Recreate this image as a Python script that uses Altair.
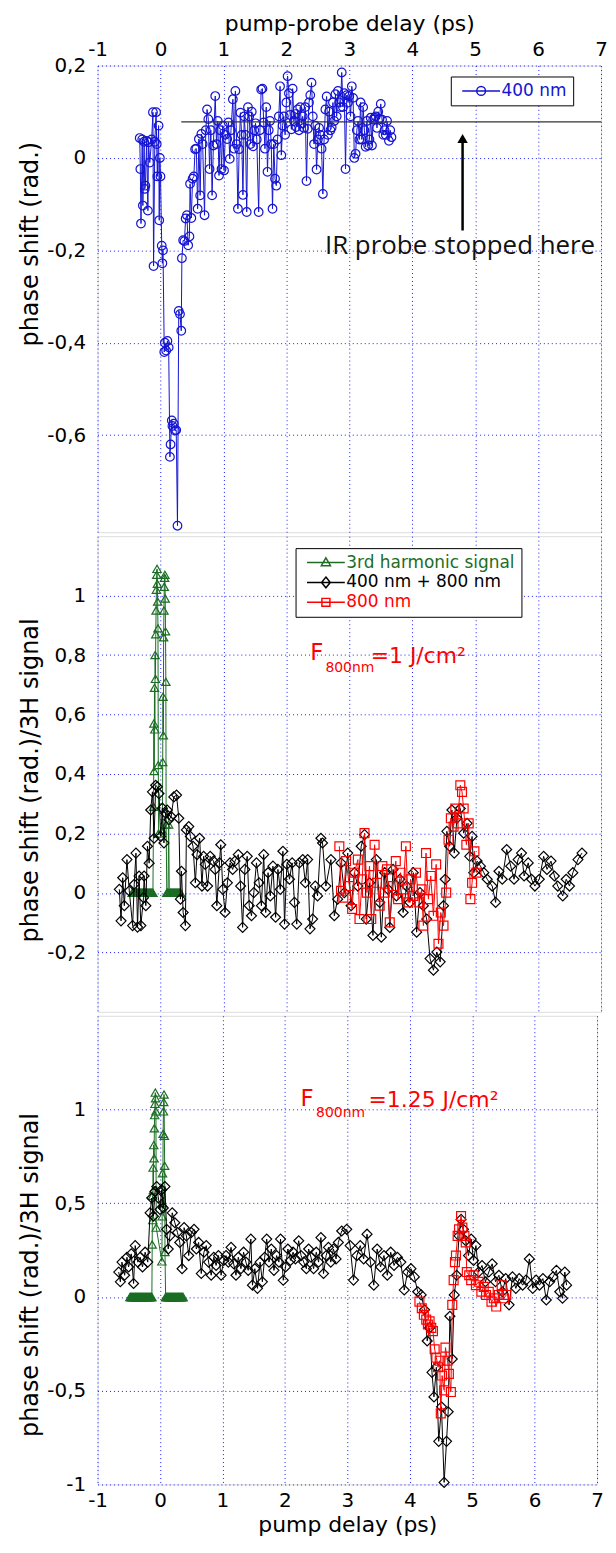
import altair as alt
import pandas as pd

BLUE = "#0000ff"
SERIES_BLUE = "#1414d2"
GREEN = "#1b6e23"
RED = "#ff0000"
BLACK = "#000000"
FONT = "DejaVu Sans"

X_TICKS = [-1, 0, 1, 2, 3, 4, 5, 6, 7]

# ---------------- top panel: 400 nm ----------------
TOP_X = [-0.33,-0.32,-0.31,-0.29,-0.28,-0.26,-0.25,-0.24,-0.22,-0.20,
         -0.19,-0.17,-0.14,-0.12,-0.11,-0.09,-0.07,-0.06,-0.05,-0.03,
         -0.02,-0.01,0.00,0.02,0.03,0.04,0.06,0.07,0.09,0.11,
         0.13,0.15,0.16,0.18,0.19,0.21,0.23,0.25,0.27,0.29,
         0.31,0.33,0.34,0.36,0.38,0.40,0.42,0.44,0.46,0.47,
         0.49,0.51,0.53,0.55,0.57,0.59,0.61,0.63,0.65,0.67,
         0.70,0.72,0.74,0.76,0.78,0.80,0.82,0.84,0.87,0.89,
         0.91,0.93,0.95,0.97,0.99,1.01,1.03,1.06,1.08,1.10,
         1.12,1.15,1.17,1.19,1.21,1.23,1.25,1.27,1.29,1.31,
         1.33,1.35,1.37,1.39,1.41,1.43,1.45,1.47,1.49,1.51,
         1.53,1.56,1.58,1.60,1.62,1.64,1.66,1.68,1.70,1.72,
         1.74,1.76,1.78,1.80,1.82,1.84,1.86,1.88,1.90,1.92,
         1.94,1.96,1.98,2.00,2.02,2.04,2.06,2.08,2.10,2.12,
         2.14,2.16,2.18,2.20,2.22,2.24,2.26,2.28,2.30,2.32,
         2.34,2.36,2.38,2.40,2.42,2.44,2.46,2.48,2.50,2.52,
         2.54,2.56,2.58,2.60,2.62,2.64,2.66,2.68,2.70,2.72,
         2.74,2.76,2.78,2.80,2.82,2.84,2.86,2.88,2.90,2.92,
         2.94,2.96,2.98,3.00,3.02,3.04,3.06,3.08,3.10,3.12,
         3.14,3.16,3.18,3.20,3.22,3.24,3.26,3.28,3.30,3.32,
         3.34,3.36,3.38,3.40,3.42,3.44,3.46,3.48,3.50,3.52,
         3.54,3.56,3.58,3.60,3.63,3.65,3.67]
TOP_Y = [0.043,-0.024,-0.142,0.040,-0.103,0.035,-0.067,-0.060,0.037,-0.114,
         0.034,-0.010,0.040,0.099,-0.234,0.035,0.099,0.030,-0.040,0.070,
         -0.135,0.000,-0.040,-0.190,-0.228,-0.200,-0.420,-0.400,-0.417,-0.396,
         -0.410,-0.647,-0.620,-0.568,-0.580,-0.575,-0.590,-0.589,-0.796,-0.331,
         -0.338,-0.374,-0.217,-0.178,-0.180,-0.131,-0.124,-0.189,-0.170,-0.056,
         -0.130,-0.045,-0.040,0.019,0.020,-0.110,0.041,-0.081,0.052,0.030,
         -0.124,0.060,0.105,0.084,-0.024,0.060,-0.081,0.027,0.134,0.030,
         0.080,-0.038,0.060,-0.024,0.070,-0.027,0.050,0.041,0.077,-0.002,
         0.060,0.127,0.020,0.145,0.030,-0.110,0.019,0.098,0.050,-0.080,
         0.090,0.050,-0.117,0.110,0.090,0.030,0.100,0.025,0.060,0.075,
         0.040,-0.117,0.060,0.148,0.150,0.077,0.020,0.110,-0.030,0.060,
         0.080,0.030,-0.110,0.030,-0.045,-0.060,0.040,0.090,0.155,0.006,
         0.070,0.090,0.050,0.120,0.177,0.140,0.093,0.062,0.150,0.080,
         0.095,0.067,0.105,0.060,0.110,0.075,0.090,0.065,0.110,-0.050,
         0.063,0.120,0.136,0.163,0.090,0.030,0.070,-0.025,0.040,0.065,
         0.050,0.020,-0.078,0.040,0.105,0.133,0.050,0.100,0.060,0.066,
         0.120,0.080,0.138,0.090,0.145,0.120,0.110,0.185,0.110,0.140,
         -0.024,0.136,0.120,0.134,0.090,0.155,0.130,0.000,0.009,0.060,
         0.080,0.040,0.120,0.040,0.110,0.060,0.024,0.080,0.027,0.040,
         0.087,0.027,0.083,0.087,0.090,0.065,0.100,0.085,0.117,0.083,
         0.050,0.060,0.050,0.080,0.037,0.060,0.045]

# annotations of the top panel
HLINE_X = [0.33]
HLINE_X2 = [7.0]
HLINE_Y = [0.078]
ARROW_X = [4.8]
ARROW_Y_TAIL = [-0.157]
ARROW_Y_HEAD = [0.042]
IR_TEXT = ["IR probe stopped here"]
IR_X = [4.76]
IR_Y = [-0.191]

# ---------------- middle panel ----------------
MID_G_X = [-0.45,-0.44,-0.43,-0.42,-0.41,-0.40,-0.39,-0.38,-0.37,-0.36,
           -0.35,-0.34,-0.33,-0.32,-0.31,-0.30,-0.29,-0.28,-0.27,-0.26,
           -0.25,-0.24,-0.23,-0.22,-0.21,-0.20,-0.19,-0.18,-0.17,-0.16,
           -0.15,-0.14,-0.13,
           -0.12,-0.11,-0.105,-0.10,-0.095,-0.09,-0.085,-0.08,-0.075,-0.07,
           -0.065,-0.06,-0.055,-0.05,-0.045,-0.04,-0.035,-0.03,
           0.03,0.035,0.04,0.045,0.05,0.055,0.06,0.065,0.07,0.075,
           0.08,0.085,0.09,0.10,
           0.11,0.12,0.13,0.14,0.15,0.16,0.17,0.18,0.19,0.20,
           0.21,0.22,0.23,0.24,0.25,0.26,0.27,0.28,0.29,0.30,0.31,0.32]
MID_G_Y = [0,0,0,0,0,0,0,0,0,0,
           0,0,0,0,0,0,0,0,0,0,
           0,0,0,0,0,0,0,0,0,0,
           0,0,0,
           0.0,0.29,0.57,0.41,0.69,0.55,0.80,0.72,0.87,0.95,
           1.02,1.07,1.09,1.04,0.98,0.89,0.43,0.20,
           0.21,0.44,0.66,0.53,0.86,0.95,1.03,1.06,1.07,0.99,
           0.88,0.71,0.23,0.0,
           0,0,0.23,0,0,0,0,0,0,0,
           0,0,0,0,0,0,0,0,0,0,0,0]

MID_K_X = [-0.654,-0.627,-0.600,-0.575,-0.533,-0.496,-0.443,-0.417,-0.390,-0.365,
           -0.340,-0.312,-0.270,-0.260,-0.233,-0.207,-0.180,-0.155,-0.128,-0.102,
           -0.076,-0.050,-0.023,0.003,0.030,0.055,0.081,0.107,0.134,0.170,
           0.212,0.255,0.291,0.317,0.333,0.360,0.396,0.412,0.449,0.475,
           0.517,0.554,0.580,0.622,0.659,0.685,0.711,0.748,0.790,0.842,
           0.869,0.895,0.937,0.958,0.990,1.026,1.063,1.105,1.147,1.184,
           1.236,1.273,1.305,1.341,1.378,1.410,1.446,1.483,1.525,1.567,
           1.604,1.640,1.672,1.709,1.745,1.787,1.829,1.866,1.903,1.945,
           1.971,2.008,2.050,2.092,2.129,2.165,2.207,2.260,2.302,2.338,
           2.375,2.417,2.459,2.496,2.549,2.575,2.628,2.708,2.762,2.815,
           2.869,2.922,2.975,3.029,3.082,3.136,3.189,3.242,3.269,3.322,
           3.376,3.429,3.483,3.509,3.563,3.616,3.643,3.696,3.749,3.803,
           3.856,3.910,3.963,4.017,4.070,4.123,4.177,4.230,4.283,4.337,
           4.390,4.444,4.497,4.524,4.550,4.593,4.630,4.668,4.710,4.764,
           4.817,4.871,4.914,4.951,4.978,5.031,5.084,5.138,5.191,5.271,
           5.325,5.378,5.431,5.501,5.565,5.618,5.682,5.736,5.778,5.843,
           5.896,5.949,6.019,6.088,6.141,6.205,6.259,6.312,6.392,6.446,
           6.499,6.552,6.633,6.697]
MID_K_Y = [0.012,-0.094,0.051,-0.043,0.112,0.007,-0.110,0.029,0.134,-0.115,
           0.057,-0.110,-0.016,0.057,-0.043,0.157,0.100,0.279,0.340,0.184,
           0.362,0.357,0.334,0.190,0.285,0.168,0.268,0.279,0.246,0.257,
           0.323,0.329,0.251,-0.021,0.073,-0.066,-0.110,0.212,0.223,0.190,
           0.157,0.034,0.129,0.184,0.023,0.123,0.096,0.023,0.123,0.107,
           0.079,-0.043,0.101,0.162,0.012,-0.066,0.034,0.101,0.079,0.107,
           0.129,0.023,-0.116,0.079,0.123,-0.043,-0.077,0.001,0.101,0.034,
           -0.043,0.129,-0.066,0.068,-0.010,0.090,-0.082,0.079,0.012,0.140,
           -0.105,0.096,0.046,0.101,-0.032,-0.105,0.101,0.112,0.034,0.112,
           -0.121,-0.088,0.023,-0.010,0.184,0.168,0.023,0.112,-0.077,-0.021,
           0.101,0.001,0.134,-0.043,0.068,0.023,0.157,0.196,-0.088,0.034,
           -0.143,0.112,-0.032,-0.149,0.068,0.012,-0.116,0.079,-0.010,0.046,
           -0.066,0.023,-0.032,0.068,-0.132,0.001,-0.043,-0.088,-0.221,-0.260,
           -0.199,-0.232,-0.043,0.046,0.207,0.157,0.279,0.134,0.251,0.284,
           0.201,0.234,0.123,0.190,0.068,0.107,0.090,0.068,0.046,0.023,
           -0.032,0.073,0.046,0.146,0.090,0.046,0.112,0.134,0.057,0.101,
           0.046,0.023,0.046,0.123,0.079,0.107,0.057,0.023,-0.010,0.046,
           0.023,0.068,0.112,0.134]

MID_R_X = [2.842,2.869,2.906,2.949,3.002,3.045,3.082,3.136,3.162,3.205,
           3.242,3.280,3.322,3.349,3.402,3.440,3.483,3.525,3.563,3.600,
           3.643,3.696,3.739,3.776,3.814,3.856,3.899,3.936,3.974,4.017,
           4.059,4.113,4.150,4.177,4.219,4.257,4.294,4.337,4.380,4.417,
           4.454,4.497,4.540,4.577,4.614,4.657,4.684,4.721,4.764,4.791,
           4.817,4.860,4.897,4.924,4.951,4.988,5.020]
MID_R_Y = [0.157,0.007,-0.016,0.107,0.023,-0.054,0.068,0.112,-0.088,0.046,
           0.201,0.001,0.090,-0.088,0.162,0.034,-0.043,0.090,0.001,0.079,
           -0.099,0.023,0.107,-0.021,0.068,0.012,0.157,-0.032,0.046,-0.010,
           0.068,-0.032,0.012,-0.110,0.134,-0.021,0.057,-0.077,0.096,-0.171,
           -0.066,-0.110,0.001,0.179,0.251,0.223,0.284,0.234,0.362,0.340,
           0.284,0.162,0.234,-0.021,0.034,0.140,0.068]

MID_LABEL_TEXT = ["F", "800nm", "=1 J/cm²"]
MID_LABEL_X = [2.38, 2.62, 3.34]
MID_LABEL_Y = [0.807, 0.757, 0.797]

# ---------------- bottom panel ----------------
BOT_G_X = [-0.48,-0.47,-0.46,-0.45,-0.44,-0.43,-0.42,-0.41,-0.40,-0.39,
           -0.38,-0.37,-0.36,-0.35,-0.34,-0.33,-0.32,-0.31,-0.30,-0.29,
           -0.28,-0.27,-0.26,-0.25,-0.24,-0.23,-0.22,-0.21,-0.20,-0.19,
           -0.18,-0.17,-0.16,-0.15,-0.14,
           -0.13,-0.125,-0.12,-0.115,-0.11,-0.105,-0.10,-0.095,-0.09,-0.085,
           -0.08,-0.075,-0.07,-0.065,-0.06,
           0.03,0.035,0.04,0.045,0.05,0.055,0.06,0.065,0.07,0.075,0.08,0.09,
           0.10,0.11,0.12,0.13,0.14,0.15,0.16,0.17,0.18,0.19,
           0.20,0.21,0.22,0.23,0.24,0.25,0.26,0.27,0.28,0.29,
           0.30,0.31,0.32,0.33,0.34,0.35,0.36,0.37]
BOT_G_Y = [0,0,0,0,0,0,0,0,0,0,
           0,0,0,0,0,0,0,0,0,0,
           0,0,0,0,0,0,0,0,0,0,
           0,0,0,0,0,
           0.0,0.28,0.54,0.41,0.69,0.57,0.81,0.74,0.90,0.97,
           1.03,1.09,1.06,0.99,0.37,
           0.19,0.43,0.66,0.50,0.87,0.99,1.04,1.08,0.86,0.70,0.24,0.0,
           0,0,0,0,0,0,0,0,0,0,
           0,0,0,0,0,0,0,0,0,0,
           0,0,0,0,0,0,0,0]

BOT_K_X = [-0.661,-0.635,-0.609,-0.566,-0.529,-0.503,-0.460,-0.423,-0.397,-0.355,
           -0.317,-0.280,-0.238,-0.196,-0.159,-0.132,-0.106,-0.079,-0.053,-0.026,
           0.000,0.026,0.053,0.079,0.106,0.132,0.159,0.196,0.238,0.280,
           0.317,0.354,0.386,0.423,0.460,0.503,0.545,0.582,0.619,0.661,
           0.704,0.741,0.778,0.820,0.862,0.899,0.936,0.979,1.021,1.058,
           1.095,1.138,1.180,1.217,1.254,1.296,1.339,1.376,1.413,1.455,
           1.481,1.519,1.561,1.603,1.640,1.677,1.709,1.746,1.783,1.825,
           1.868,1.905,1.931,1.974,2.011,2.048,2.090,2.132,2.169,2.222,
           2.259,2.302,2.344,2.381,2.418,2.460,2.503,2.540,2.577,2.619,
           2.661,2.698,2.735,2.778,2.820,2.857,2.910,2.991,3.045,3.099,
           3.153,3.207,3.262,3.316,3.370,3.424,3.478,3.532,3.587,3.641,
           3.695,3.749,3.803,3.857,3.912,3.966,4.020,4.074,4.128,4.183,
           4.237,4.280,4.318,4.356,4.388,4.426,4.464,4.508,4.551,4.589,
           4.616,4.643,4.681,4.713,4.751,4.789,4.822,4.860,4.897,4.941,
           4.984,5.022,5.060,5.103,5.158,5.212,5.266,5.320,5.374,5.428,
           5.483,5.537,5.591,5.645,5.699,5.753,5.808,5.862,5.916,5.970,
           6.024,6.078,6.133,6.187,6.241,6.295,6.349,6.403,6.447,6.484,
           6.512]
BOT_K_Y = [0.133,0.081,0.186,0.116,0.212,0.160,0.230,0.072,0.274,0.186,
           0.212,0.160,0.239,0.186,0.449,0.528,0.431,0.563,0.589,0.528,
           0.467,0.572,0.475,0.589,0.361,0.256,0.326,0.449,0.396,0.344,
           0.291,0.151,0.370,0.326,0.221,0.344,0.361,0.256,0.291,0.125,
           0.239,0.274,0.186,0.116,0.212,0.168,0.221,0.116,0.195,0.221,
           0.186,0.265,0.177,0.116,0.212,0.151,0.239,0.186,0.142,0.309,
           0.063,0.151,0.046,0.186,0.081,0.212,0.309,0.186,0.256,0.142,
           0.221,0.186,0.309,0.089,0.160,0.256,0.195,0.239,0.203,0.300,
           0.221,0.186,0.151,0.256,0.212,0.151,0.239,0.186,0.317,0.125,
           0.221,0.265,0.186,0.256,0.203,0.291,0.352,0.361,0.274,0.090,
           0.221,0.274,0.203,0.335,0.186,0.063,0.256,0.160,0.221,0.116,
           0.239,0.168,0.212,0.186,0.037,0.133,0.151,0.107,0.028,0.011,
           -0.068,-0.235,-0.165,-0.402,-0.533,-0.375,-0.770,-0.586,-0.989,-0.770,
           -0.612,-0.103,-0.331,0.011,0.116,0.326,0.414,0.361,0.300,0.221,
           0.309,0.195,0.274,0.133,0.168,0.081,0.133,0.177,0.081,0.116,
           0.028,0.098,-0.042,0.107,0.046,0.098,0.063,0.090,0.203,0.046,
           0.090,0.063,0.098,-0.016,0.081,0.107,0.142,0.028,-0.007,0.133,
           0.063]

BOT_R_X = [4.155,4.193,4.226,4.264,4.291,4.318,4.345,4.372,4.399,4.426,
           4.453,4.480,4.497,4.518,4.551,4.572,4.605,4.627,4.659,4.681,
           4.703,4.724,4.740,4.767,4.789,4.822,4.843,4.876,4.897,4.914,
           4.952,4.984,5.022,5.060,5.103,5.147,5.185,5.222,5.266,5.309,
           5.347,5.385,5.428,5.472,5.509,5.547]
BOT_R_Y = [-0.025,-0.060,-0.095,-0.121,-0.147,-0.130,-0.165,-0.182,-0.279,-0.323,
           -0.375,-0.340,-0.621,-0.419,-0.498,-0.270,-0.340,-0.410,-0.507,-0.042,
           0.090,0.186,0.221,0.326,0.361,0.432,0.370,0.326,0.291,0.133,
           0.116,0.090,0.116,0.063,0.081,0.028,0.054,0.011,0.028,-0.025,
           -0.007,-0.051,0.011,0.063,-0.007,0.011]

BOT_LABEL_TEXT = ["F", "800nm", "=1.25 J/cm²"]
BOT_LABEL_X = [2.25, 2.50, 3.34]
BOT_LABEL_Y = [1.058, 0.984, 1.053]

# legend entries
MID_NAMES = ["3rd harmonic signal", "400 nm + 800 nm", "800 nm"]
MID_COLORS = [GREEN, BLACK, RED]
TOP_NAMES = ["400 nm"]
TOP_COLORS = [SERIES_BLUE]

# legend symbols: line + marker (unit = sqrt(size)/2)
SYM_CIRCLE = "M-4.75,0L4.75,0M1.1,0A1.1,1.1,0,1,1,-1.1,0A1.1,1.1,0,1,1,1.1,0"
SYM_TRI = "M-4.75,0L4.75,0M0,-1.2L1.15,0.8L-1.15,0.8Z"
SYM_DIAM = "M-4.75,0L4.75,0M0,-1.35L1.1,0L0,1.35L-1.1,0Z"
SYM_SQ = "M-4.75,0L4.75,0M-1,-1L1,-1L1,1L-1,1Z"


def frame(xs, ys):
    return pd.DataFrame({"x": xs, "y": ys, "i": list(range(len(xs)))})


def x_enc(orient, title, labels):
    return alt.X(
        "x:Q",
        scale=alt.Scale(domain=[-1, 7], nice=False, zero=False),
        axis=alt.Axis(
            orient=orient, title=title, values=X_TICKS, labels=labels,
            labelExpr="datum.value + ''",
            labelFlush=False, ticks=False, domain=False,
            grid=True, gridColor=BLUE, gridDash=[1, 3], gridWidth=1, gridOpacity=0.9,
            labelFont=FONT, labelFontSize=20, labelColor=BLACK, labelPadding=6,
            titleFont=FONT, titleFontSize=22, titleFontWeight="normal",
            titleColor=BLACK, titlePadding=4,
        ),
    )


def y_enc(domain, values, title, title_y):
    return alt.Y(
        "y:Q",
        scale=alt.Scale(domain=domain, nice=False, zero=False),
        axis=alt.Axis(
            title=title, values=values, ticks=False, domain=False,
            grid=True, gridColor=BLUE, gridDash=[1, 3], gridWidth=1, gridOpacity=0.9,
            labelExpr="replace(datum.value + '', '.', ',')",
            labelFont=FONT, labelFontSize=20, labelColor=BLACK, labelPadding=12,
            titleFont=FONT, titleFontSize=24, titleFontWeight="normal",
            titleColor=BLACK, titleX=-67, titleY=title_y, titleAngle=270,
            titleAlign="center", titleBaseline="middle",
        ),
    )


def series_layers(df, X, Y, color, shape, size):
    line = alt.Chart(df).mark_line(color=color, strokeWidth=1).encode(
        x=X, y=Y, order=alt.Order("i:Q"))
    pts = alt.Chart(df).mark_point(
        shape=shape, size=size, color=color, strokeWidth=1.2, filled=False, opacity=1
    ).encode(x=X, y=Y)
    return [line, pts]


def legend_layer(df, X, Y, names, colors, paths, lx, ly, label_color):
    leg = alt.Legend(
        title=None, orient="none", legendX=lx, legendY=ly,
        fillColor="white", strokeColor=BLACK, padding=6, rowPadding=2,
        labelFont=FONT, labelFontSize=17, labelColor=label_color, labelLimit=400,
        symbolSize=64, symbolOffset=16, labelOffset=12, symbolStrokeWidth=1.5,
        symbolOpacity=1,
    )
    return alt.Chart(df).transform_filter("datum.x > 1000").mark_point(
        filled=False, strokeWidth=1.5
    ).encode(
        x=X, y=Y,
        color=alt.Color("s:N", scale=alt.Scale(domain=names, range=colors), legend=leg),
        shape=alt.Shape("s:N", scale=alt.Scale(domain=names, range=paths), legend=leg),
    ).transform_calculate(s="'x'")


def label_layers(texts, xs, ys, X, Y, sizes):
    out = []
    for t, x, y, fs in zip(texts, xs, ys, sizes):
        d = pd.DataFrame({"x": [x], "y": [y], "t": [t]})
        out.append(alt.Chart(d).mark_text(
            align="left", baseline="middle", font=FONT, fontSize=fs, color=RED
        ).encode(x=X, y=Y, text="t:N"))
    return out


# ---------- top ----------
Xt = x_enc("top", "pump-probe delay (ps)", True)
Yt = y_enc([-0.81, 0.2], [-0.6, -0.4, -0.2, 0, 0.2], "phase shift (rad.)", 179)
top_df = frame(TOP_X, TOP_Y)
hline_df = pd.DataFrame({"x": HLINE_X, "x2": HLINE_X2, "y": HLINE_Y})
arrow_df = pd.DataFrame({"x": ARROW_X, "y": ARROW_Y_TAIL, "y2": ARROW_Y_HEAD})
head_df = pd.DataFrame({"x": ARROW_X, "y": ARROW_Y_HEAD})
ir_df = pd.DataFrame({"x": IR_X, "y": IR_Y, "t": IR_TEXT})

top_layers = series_layers(top_df, Xt, Yt, SERIES_BLUE, "circle", 75)
top_layers += [
    alt.Chart(hline_df).mark_rule(color="#333333", strokeWidth=1.2).encode(x=Xt, x2="x2:Q", y=Yt),
    alt.Chart(arrow_df).mark_rule(color=BLACK, strokeWidth=2.5).encode(x=Xt, y=Yt, y2="y2:Q"),
    alt.Chart(head_df).mark_point(shape="triangle-up", size=110, filled=True, color=BLACK, opacity=1).encode(x=Xt, y=Yt),
    alt.Chart(ir_df).mark_text(font="Open Sans", fontSize=26, color="#111111").encode(x=Xt, y=Yt, text="t:N"),
    legend_layer(top_df, Xt, Yt, TOP_NAMES, TOP_COLORS, [SYM_CIRCLE], 355, 11, SERIES_BLUE),
]
top = alt.layer(*top_layers).properties(width=506, height=469)

# ---------- middle ----------
Xm = x_enc("bottom", None, False)
Ym = y_enc([-0.4, 1.2], [-0.2, 0, 0.2, 0.4, 0.6, 0.8, 1], "phase shift (rad.)/3H signal", 245)
mg, mk, mr = frame(MID_G_X, MID_G_Y), frame(MID_K_X, MID_K_Y), frame(MID_R_X, MID_R_Y)
mid_layers = []
mid_layers += series_layers(mg, Xm, Ym, GREEN, "triangle-up", 70)
mid_layers += series_layers(mk, Xm, Ym, BLACK, "diamond", 100)
mid_layers += series_layers(mr, Xm, Ym, RED, "square", 80)
mid_layers += label_layers(MID_LABEL_TEXT, MID_LABEL_X, MID_LABEL_Y, Xm, Ym, [23, 14, 22])
mid_layers.append(legend_layer(
    mk, Xm, Ym, MID_NAMES, MID_COLORS, [SYM_TRI, SYM_DIAM, SYM_SQ], 199, 12,
    alt.ExprRef(expr="datum.value == '800 nm' ? '#ff0000' : (datum.value == '400 nm + 800 nm' ? '#000000' : '#1b6e23')"),
))
mid = alt.layer(*mid_layers).properties(width=506, height=478)

# ---------- bottom ----------
Xb = x_enc("bottom", "pump delay (ps)", True)
Yb = y_enc([-1, 1.5], [-1, -0.5, 0, 0.5, 1], "phase shift (rad.)/3H signal", 260)
bg, bk, br = frame(BOT_G_X, BOT_G_Y), frame(BOT_K_X, BOT_K_Y), frame(BOT_R_X, BOT_R_Y)
bot_layers = []
bot_layers += series_layers(bg, Xb, Yb, GREEN, "triangle-up", 70)
bot_layers += series_layers(bk, Xb, Yb, BLACK, "diamond", 100)
bot_layers += series_layers(br, Xb, Yb, RED, "square", 80)
bot_layers += label_layers(BOT_LABEL_TEXT, BOT_LABEL_X, BOT_LABEL_Y, Xb, Yb, [23, 14, 22])
bot = alt.layer(*bot_layers).properties(width=502, height=471)

chart = alt.vconcat(top, mid, bot, spacing=2).resolve_scale(
    color="independent", shape="independent"
).resolve_legend(color="independent", shape="independent").properties(
    padding={"left": 10, "right": 0, "top": 0, "bottom": 0}
).configure_view(stroke=BLUE, strokeWidth=1.5).configure(background="white")

chart.save("out.html", embed_options={"renderer": "svg", "actions": False})
